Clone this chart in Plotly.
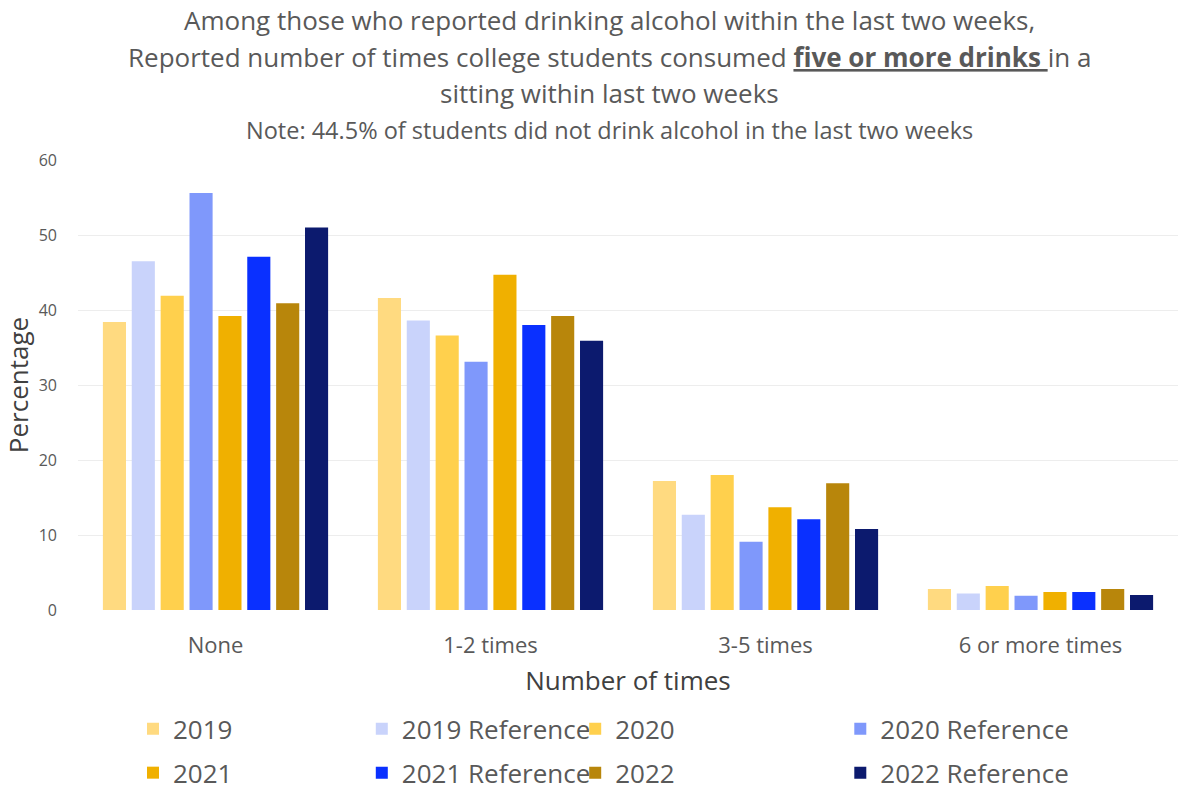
import plotly.graph_objects as go

categories = ['None', '1-2 times', '3-5 times', '6 or more times']

series_names = ['2019', '2019 Reference', '2020', '2020 Reference',
                '2021', '2021 Reference', '2022', '2022 Reference']

v2019 = [38.4, 41.6, 17.2, 2.8]
v2019_ref = [46.5, 38.6, 12.7, 2.2]
v2020 = [41.9, 36.6, 18.0, 3.2]
v2020_ref = [55.6, 33.1, 9.1, 1.9]
v2021 = [39.2, 44.7, 13.7, 2.4]
v2021_ref = [47.1, 38.0, 12.1, 2.4]
v2022 = [40.9, 39.2, 16.9, 2.8]
v2022_ref = [51.0, 35.9, 10.8, 2.0]

values = [v2019, v2019_ref, v2020, v2020_ref, v2021, v2021_ref, v2022, v2022_ref]

colors = ['#FFDA80', '#C9D3FB', '#FFD04D', '#7F98FB',
          '#F0B000', '#0A30FF', '#B8860B', '#0C1A6E']

# legend columns laid out like the original (4 columns x 2 rows)
legend_of = ['legend', 'legend2', 'legend3', 'legend4',
             'legend', 'legend2', 'legend3', 'legend4']

FONT = 'Open Sans'
GREY = '#595959'

fig = go.Figure()
for name, vals, col, lg in zip(series_names, values, colors, legend_of):
    fig.add_trace(go.Bar(
        x=categories, y=vals, name=name,
        marker_color=col, marker_line_width=0,
        legend=lg, legendgroup=name,
    ))

leg_common = dict(
    orientation='v', xref='paper', yref='container',
    yanchor='top', y=0.107, xanchor='left',
    font=dict(family=FONT, size=26, color=GREY),
    bgcolor='rgba(0,0,0,0)', tracegroupgap=7, traceorder='grouped',
)

fig.update_layout(
    width=1183, height=790,
    paper_bgcolor='white', plot_bgcolor='white',
    margin=dict(l=78, r=5, t=160, b=180),
    barmode='group', bargap=0.16, bargroupgap=0.2,
    font=dict(family=FONT, color=GREY),
    legend=dict(x=0.050, **leg_common),
    legend2=dict(x=0.258, **leg_common),
    legend3=dict(x=0.452, **leg_common),
    legend4=dict(x=0.693, **leg_common),
)

fig.update_yaxes(
    range=[0, 60], dtick=10, showgrid=True, gridcolor='#EDEDED',
    zeroline=False, showline=False, automargin=False,
    tickfont=dict(family=FONT, size=16, color=GREY),
    ticklabelstandoff=20,
    title=dict(text='Percentage', font=dict(family=FONT, size=26, color='#404040'),
               standoff=8),
)
fig.update_xaxes(
    showline=False, showgrid=False, automargin=False,
    tickfont=dict(family=FONT, size=22, color=GREY),
    ticklabelstandoff=20,
    title=dict(text='Number of times', font=dict(family=FONT, size=26, color='#404040'),
               standoff=13),
)

title_lines = [
    ('Among those who reported drinking alcohol within the last two weeks,', 20, 26),
    ('Reported number of times college students consumed '
     '<b><u>five or more drinks </u></b>in a', 57, 26),
    ('sitting within last two weeks', 93, 26),
    ('Note: 44.5% of students did not drink alcohol in the last two weeks', 130, 23.5),
]
for text, ypix, size in title_lines:
    fig.add_annotation(
        text=text, xref='paper', yref='paper',
        x=(609 - 78) / 1100, y=(610 - ypix) / 450,
        xanchor='center', yanchor='middle', showarrow=False,
        font=dict(family=FONT, size=size, color=GREY),
    )

# drop the browser's default 8px body margin so the figure sits at the top-left
fig.write_html('out.html', config={'displayModeBar': False},
               post_script="document.body.style.margin='0';")
